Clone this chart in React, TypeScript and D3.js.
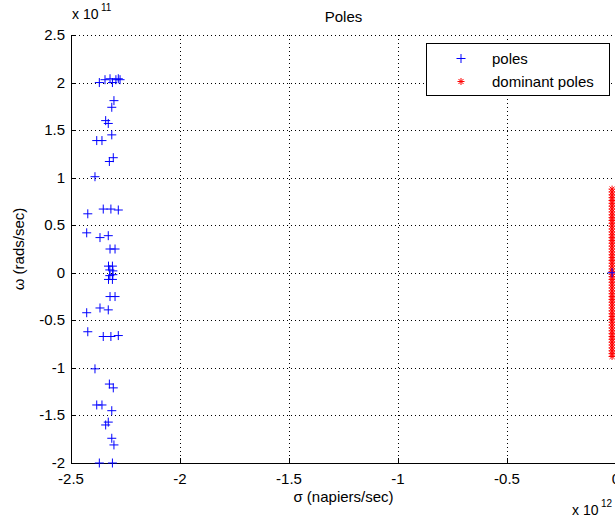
import React from "react";
import * as d3 from "d3";

// poles: [sigma (x1e12), omega (x1e11)]
const polesUpper: [number, number][] = [
  [-2.370, 2.00], [-2.344, 2.03], [-2.321, 2.04], [-2.310, 2.00], [-2.294, 2.03], [-2.283, 2.04], [-2.275, 2.03],
  [-2.303, 1.81], [-2.313, 1.74],
  [-2.341, 1.60], [-2.329, 1.57],
  [-2.382, 1.39], [-2.358, 1.39], [-2.313, 1.45],
  [-2.306, 1.21], [-2.324, 1.17],
  [-2.390, 1.01],
  [-2.423, 0.62], [-2.352, 0.67], [-2.317, 0.67], [-2.283, 0.66],
  [-2.428, 0.42], [-2.367, 0.37], [-2.329, 0.39],
  [-2.321, 0.25], [-2.298, 0.25],
  [-2.328, 0.07], [-2.310, 0.07], [-2.322, 0.03], [-2.308, 0.02],
  [-0.018, 0.0],
];
const polesLower: [number, number][] = [
  [-2.370, -2.00], [-2.344, -2.03], [-2.321, -2.04], [-2.310, -2.00], [-2.294, -2.03], [-2.283, -2.04], [-2.275, -2.03],
  [-2.303, -1.81], [-2.313, -1.74],
  [-2.341, -1.60], [-2.329, -1.57],
  [-2.382, -1.39], [-2.358, -1.39], [-2.313, -1.45],
  [-2.306, -1.21], [-2.324, -1.17],
  [-2.390, -1.01],
  [-2.423, -0.62], [-2.352, -0.67], [-2.317, -0.67], [-2.283, -0.66],
  [-2.428, -0.42], [-2.367, -0.37], [-2.329, -0.39],
  [-2.321, -0.25], [-2.298, -0.25],
  [-2.328, -0.07], [-2.310, -0.07], [-2.322, -0.03], [-2.308, -0.02],
];
const dominantSigma = -0.018;
const dominantOmega: number[] = [
  0.88, 0.85, 0.82, 0.79, 0.76, 0.73, 0.70, 0.67, 0.64, 0.61, 0.58, 0.55, 0.52, 0.49, 0.46,
  0.43, 0.40, 0.37, 0.34, 0.31, 0.28, 0.25, 0.22, 0.19, 0.16, 0.13, 0.10, 0.07, 0.04, 0.015,
  -0.015, -0.04, -0.07, -0.10, -0.13, -0.16, -0.19, -0.22, -0.25, -0.28, -0.31, -0.34, -0.37,
  -0.40, -0.43, -0.46, -0.49, -0.52, -0.55, -0.58, -0.61, -0.64, -0.67, -0.70, -0.73, -0.76,
  -0.79, -0.82, -0.85, -0.88,
];
const xTicks = [-2.5, -2, -1.5, -1, -0.5, 0];
const yTicks = [-2, -1.5, -1, -0.5, 0, 0.5, 1, 1.5, 2, 2.5];
const titleText = "Poles";
const xLabel = "σ (napiers/sec)";
const yLabel = "ω (rads/sec)";
const legendLabels = ["poles", "dominant poles"];

const FONT = "'Liberation Sans', Arial, sans-serif";
const FS = 15;

export default function App() {
  const W = 615, H = 521;
  const L = 71, R = 616, T = 35, B = 463;
  const x = d3.scaleLinear().domain([-2.5, 0]).range([L, R]);
  const y = d3.scaleLinear().domain([-2, 2.5]).range([B, T]);
  const allPoles = [...polesUpper, ...polesLower].filter(
    (p) => p[1] >= -2 && p[1] <= 2.5 && p[0] >= -2.5 && p[0] <= 0
  );
  const plus = (cx: number, cy: number, s: number) =>
    `M${cx - s},${cy}H${cx + s}M${cx},${cy - s}V${cy + s}`;
  const star = (cx: number, cy: number, s: number) => {
    const d = s * 0.72;
    return `M${cx - s},${cy}H${cx + s}M${cx},${cy - s}V${cy + s}M${cx - d},${cy - d}L${cx + d},${cy + d}M${cx - d},${cy + d}L${cx + d},${cy - d}`;
  };
  const fmt = (v: number) => String(v);
  return (
    <div style={{ position: "absolute", left: 0, top: 0 }}>
      <svg width={W} height={H} style={{ display: "block", background: "#fff" }} fontFamily={FONT}>
        {/* grid */}
        <g stroke="#000" strokeWidth={1} strokeDasharray="1,3" shapeRendering="crispEdges">
          {xTicks.filter((t) => t !== -2.5).map((t) => (
            <line key={"gx" + t} x1={Math.round(x(t)) + 0.5} x2={Math.round(x(t)) + 0.5} y1={T} y2={B} />
          ))}
          {yTicks.filter((t) => t !== -2).map((t) => (
            <line key={"gy" + t} x1={L} x2={R} y1={Math.round(y(t)) + 0.5} y2={Math.round(y(t)) + 0.5} />
          ))}
        </g>
        {/* axes */}
        <g stroke="#000" strokeWidth={1} shapeRendering="crispEdges">
          <line x1={L + 0.5} x2={L + 0.5} y1={T} y2={B + 0.5} />
          <line x1={L} x2={R} y1={B + 0.5} y2={B + 0.5} />
          {xTicks.map((t) => (
            <line key={"tx" + t} x1={Math.round(x(t)) + 0.5} x2={Math.round(x(t)) + 0.5} y1={B} y2={B - 5} />
          ))}
          {yTicks.map((t) => (
            <line key={"ty" + t} x1={L} x2={L + 5} y1={Math.round(y(t)) + 0.5} y2={Math.round(y(t)) + 0.5} />
          ))}
        </g>
        {/* tick labels */}
        <g fontSize={FS} fill="#000">
          {xTicks.map((t) => (
            <text key={"lx" + t} x={x(t)} y={B + 21} textAnchor="middle">{fmt(t)}</text>
          ))}
          {yTicks.map((t) => (
            <text key={"ly" + t} x={L - 6} y={y(t) + 5} textAnchor="end">{fmt(t)}</text>
          ))}
          <text x={L + 1} y={19} fontSize={14}>x 10</text>
          <text x={L + 30} y={11} fontSize={10}>11</text>
          <text x={572} y={515} fontSize={14}>x 10</text>
          <text x={601} y={507} fontSize={10}>12</text>
        </g>
        {/* title and labels */}
        <text x={(L + R) / 2} y={22} textAnchor="middle" fontSize={FS}>{titleText}</text>
        <text x={(L + R) / 2} y={502} textAnchor="middle" fontSize={FS}>{xLabel}</text>
        <text transform={`translate(24,${(T + B) / 2}) rotate(-90)`} textAnchor="middle" fontSize={FS}>{yLabel}</text>
        {/* dominant poles */}
        <g stroke="#ff0000" strokeWidth={1} fill="none">
          {dominantOmega.map((w, i) => (
            <path key={"d" + i} d={star(x(dominantSigma), y(w), 3.5)} />
          ))}
        </g>
        {/* poles */}
        <g stroke="#0000ff" strokeWidth={1} fill="none">
          {allPoles.map((p, i) => (
            <path key={"p" + i} d={plus(x(p[0]), y(p[1]), 4.5)} />
          ))}
        </g>
        {/* legend */}
        <g>
          <rect x={426.5} y={43.5} width={183} height={52} fill="#fff" stroke="#000" strokeWidth={1} shapeRendering="crispEdges" />
          <path d={plus(461, 58.5, 4.5)} stroke="#0000ff" fill="none" />
          <path d={star(461, 81.5, 3.5)} stroke="#ff0000" fill="none" />
          <text x={492} y={64} fontSize={FS}>{legendLabels[0]}</text>
          <text x={492} y={87} fontSize={FS}>{legendLabels[1]}</text>
        </g>
      </svg>
    </div>
  );
}
